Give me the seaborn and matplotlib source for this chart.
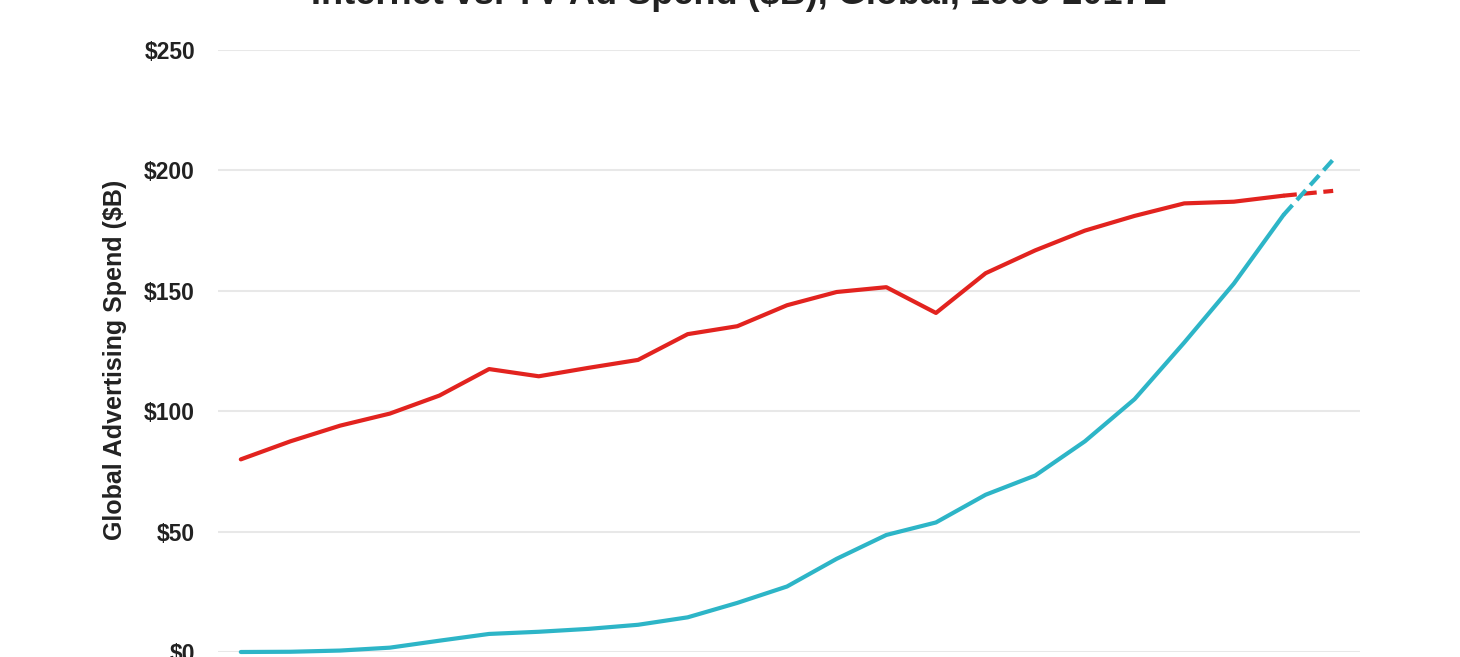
import matplotlib
matplotlib.use("Agg")
import matplotlib.pyplot as plt
import seaborn as sns
import pandas as pd

# values ($B)
years = list(range(1995, 2018))
tv_spend = [80.0, 87.5, 94.0, 99.0, 106.5, 117.5, 114.5, 118.0, 121.3, 132.0,
            135.3, 144.0, 149.5, 151.5, 140.8, 157.3, 166.8, 175.0, 181.1, 186.3,
            187.0, 189.5, 191.5]
internet_spend = [0.0, 0.1, 0.6, 1.8, 4.7, 7.5, 8.4, 9.6, 11.3, 14.4,
                  20.4, 27.2, 38.7, 48.6, 53.8, 65.3, 73.3, 87.5, 105.0, 128.5,
                  153.0, 181.5, 204.5]
first_estimate = 2016  # segment after this year is a projection (dashed)
y_ticks = [0, 50, 100, 150, 200, 250]
y_tick_labels = ["$0", "$50", "$100", "$150", "$200", "$250"]

red = "#E2231F"
cyan = "#2DB5C7"

sns.set_theme(style="white")
plt.rcParams["font.family"] = ["Liberation Sans", "DejaVu Sans"]

df = pd.DataFrame({"year": years, "TV": tv_spend, "Internet": internet_spend})
actual = df[df["year"] <= first_estimate]
projected = df[df["year"] >= first_estimate]

fig = plt.figure(figsize=(14.6, 6.57), dpi=100)
ax = fig.add_axes([0.1493, 0.00761, 0.7822, 0.91629])

for col, color in [("TV", red), ("Internet", cyan)]:
    sns.lineplot(data=actual, x="year", y=col, ax=ax, color=color,
                 linewidth=3, clip_on=False)
    sns.lineplot(data=projected, x="year", y=col, ax=ax, color=color,
                 linewidth=3, linestyle=(0, (3.2, 1.6)), clip_on=False)

ax.set_xlim(1994.54, 2017.54)
ax.set_ylim(0, 250)
ax.set_yticks(y_ticks)
ax.set_yticklabels(y_tick_labels, fontsize=16.5, fontweight="bold", color="#222222")
ax.set_xticks([])
ax.tick_params(axis="y", length=0, pad=16.5)
ax.yaxis.grid(True, color="#e8e8e8", linewidth=1.5)
ax.set_axisbelow(True)
sns.despine(ax=ax, left=True, bottom=True)
ax.set_xlabel("")
ax.set_ylabel("")

fig.text(0.0788, 0.452, "Global Advertising Spend ($B)", rotation=90,
         fontsize=18, fontweight="bold", color="#222222",
         ha="center", va="center")

# title sits mostly above the visible area, as in the cropped reference
fig.text(0.506, 0.9935, "Internet vs. TV Ad Spend ($B), Global, 1995-2017E",
         fontsize=26, fontweight="bold", color="#222222",
         ha="center", va="baseline")

fig.savefig("out.png", dpi=100)
